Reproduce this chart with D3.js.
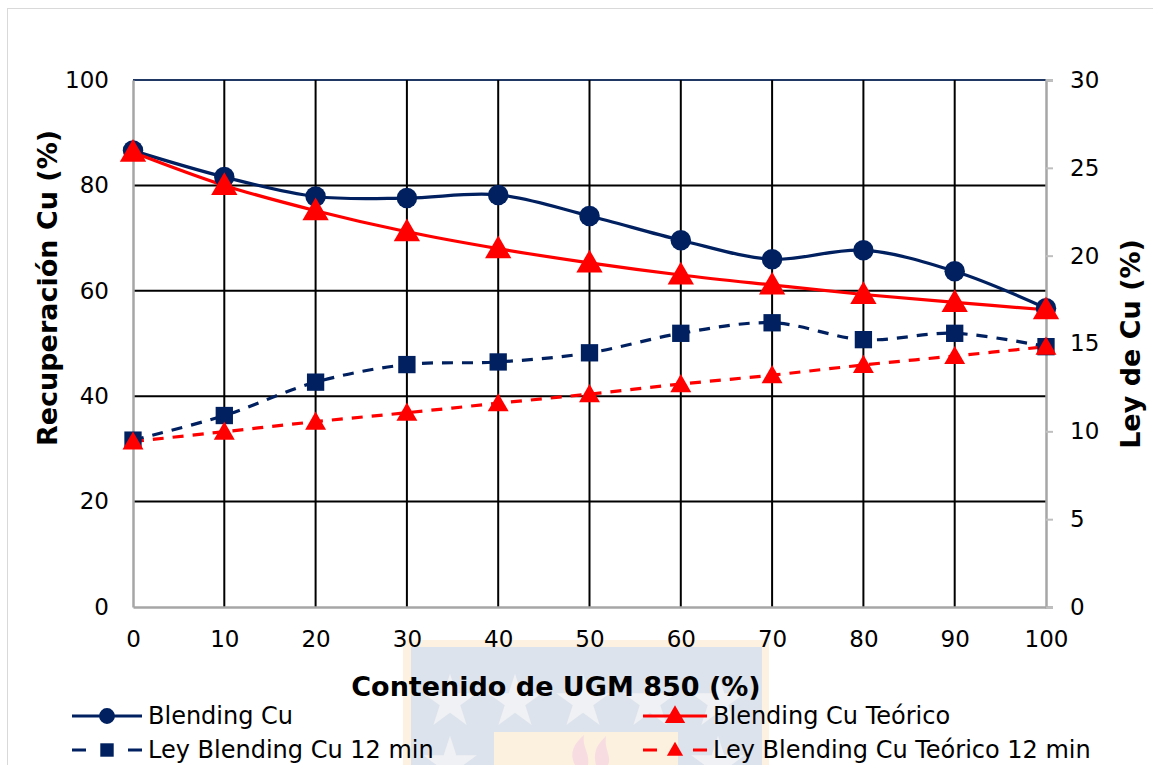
<!DOCTYPE html>
<html>
<head>
<meta charset="utf-8">
<script src="https://cdn.jsdelivr.net/npm/d3@7"></script>
<style>
  body { margin: 0; background: #fff; }
  svg { display: block; font-family: "DejaVu Sans", Verdana, sans-serif; }
</style>
</head>
<body>
<svg id="chart" width="1153" height="765"></svg>
<script>
// data
var ugm = [0, 10, 20, 30, 40, 50, 60, 70, 80, 90, 100];
var blendingCu = [86.6, 81.6, 77.9, 77.6, 78.2, 74.2, 69.6, 66.0, 67.7, 63.7, 56.7];
var blendingCuTeorico = [86.3, 80.0, 75.2, 71.2, 68.0, 65.3, 63.0, 61.1, 59.3, 57.8, 56.4];
var leyBlending = [9.5, 10.9, 12.8, 13.8, 13.95, 14.47, 15.58, 16.18, 15.22, 15.58, 14.82];
var leyTeorico = [9.42, 9.98, 10.55, 11.06, 11.6, 12.12, 12.69, 13.2, 13.78, 14.29, 14.82];
var leftTicks = [0, 20, 40, 60, 80, 100];
var rightTicks = [0, 5, 10, 15, 20, 25, 30];
var xTicks = [0, 10, 20, 30, 40, 50, 60, 70, 80, 90, 100];

var navy = "#002060", red = "#ff0000";
var margin = { top: 80, right: 107, bottom: 158, left: 133 },
  W = 1153, H = 765,
  width = W - margin.left - margin.right,
  height = H - margin.top - margin.bottom;

var svg = d3.select("#chart");

// chart frame
svg.append("rect")
  .attr("x", 7.5).attr("y", 8.5)
  .attr("width", 1200).attr("height", 800)
  .attr("fill", "#fff").attr("stroke", "#d9d9d9");

// faint logo watermark behind the bottom
var wm = svg.append("g");
wm.append("rect").attr("x", 403).attr("y", 640).attr("width", 366).attr("height", 130).attr("fill", "#fdf2e2");
wm.append("rect").attr("x", 411).attr("y", 647).attr("width", 351).attr("height", 130).attr("fill", "#dde3ec");
wm.append("rect").attr("x", 494).attr("y", 732).attr("width", 184).attr("height", 40).attr("fill", "#fcf0df");
wm.selectAll("path.star")
  .data([[450, 702], [515, 702], [583, 702], [650, 702], [718, 702], [450, 764], [718, 764]])
  .enter().append("path")
  .attr("d", d3.symbol().type(d3.symbolStar).size(900))
  .attr("transform", function (d) { return "translate(" + d[0] + "," + d[1] + ")"; })
  .attr("fill", "#eff1f4");
wm.append("path")
  .attr("d", "M575,765 C568,752 576,742 584,735 C582,748 590,752 588,765 Z M596,765 C592,750 600,742 606,736 C604,750 612,756 608,765 Z")
  .attr("fill", "#f7dde2");

var g = svg.append("g")
  .attr("transform", "translate(" + margin.left + "," + margin.top + ")");

var x = d3.scaleLinear().domain([0, 100]).range([0, width]);
var yL = d3.scaleLinear().domain([0, 100]).range([height, 0]);
var yR = d3.scaleLinear().domain([0, 30]).range([height, 0]);

// grid
g.append("g").selectAll("line")
  .data(leftTicks.filter(function (d) { return d > 0; }))
  .enter().append("line")
  .attr("x1", 0).attr("x2", width)
  .attr("y1", function (d) { return yL(d); })
  .attr("y2", function (d) { return yL(d); })
  .attr("stroke", function (d) { return d == 100 ? "#1f3864" : "#000"; })
  .attr("stroke-width", 2);
g.append("g").selectAll("line")
  .data(xTicks.filter(function (d) { return d > 0 && d < 100; }))
  .enter().append("line")
  .attr("x1", function (d) { return x(d); })
  .attr("x2", function (d) { return x(d); })
  .attr("y1", 0).attr("y2", height)
  .attr("stroke", "#000").attr("stroke-width", 2);

// axes
var xAxis = g.append("g").attr("transform", "translate(0," + height + ")")
  .call(d3.axisBottom(x).tickValues(xTicks).tickSize(0).tickPadding(24));
var leftAxis = g.append("g")
  .call(d3.axisLeft(yL).tickValues(leftTicks).tickSize(0).tickPadding(24));
var rightAxis = g.append("g").attr("transform", "translate(" + width + ",0)")
  .call(d3.axisRight(yR).tickValues(rightTicks).tickSize(7).tickPadding(17));

[xAxis, leftAxis, rightAxis].forEach(function (a) {
  a.select(".domain").attr("stroke", "#a6a6a6").attr("stroke-width", 2.5);
  a.selectAll(".tick line").attr("stroke", "#bfbfbf").attr("stroke-width", 2);
  a.selectAll("text").attr("font-size", 23).attr("fill", "#000")
    .attr("font-family", "DejaVu Sans, Verdana, sans-serif");
});

// series
var series = [
  { name: "Blending Cu", vals: blendingCu, scale: yL, color: navy, dash: null, marker: "circle", size: 330 },
  { name: "Blending Cu Teórico", vals: blendingCuTeorico, scale: yL, color: red, dash: null, marker: "triangle", size: 300 },
  { name: "Ley Blending Cu 12 min", vals: leyBlending, scale: yR, color: navy, dash: "11,9", marker: "square", size: 300 },
  { name: "Ley Blending Cu Teórico 12 min", vals: leyTeorico, scale: yR, color: red, dash: "11,9", marker: "triangle", size: 190 }
];
var symbols = { circle: d3.symbolCircle, triangle: d3.symbolTriangle, square: d3.symbolSquare };

series.forEach(function (s) {
  var line = d3.line()
    .x(function (d, i) { return x(ugm[i]); })
    .y(function (d) { return s.scale(d); })
    .curve(d3.curveCatmullRom.alpha(0.5));
  g.append("path")
    .datum(s.vals)
    .attr("d", line)
    .attr("fill", "none")
    .attr("stroke", s.color)
    .attr("stroke-width", 3.2)
    .attr("stroke-dasharray", s.dash);
});
series.forEach(function (s) {
  g.append("g").selectAll("path")
    .data(s.vals)
    .enter().append("path")
    .attr("d", d3.symbol().type(symbols[s.marker]).size(s.size))
    .attr("transform", function (d, i) {
      var dy = s.marker == "triangle" ? 2 : 0;
      return "translate(" + x(ugm[i]) + "," + (s.scale(d) + dy) + ")";
    })
    .attr("fill", s.color);
});

// axis titles
svg.append("text")
  .attr("x", 556).attr("y", 696)
  .attr("text-anchor", "middle")
  .attr("font-size", 27).attr("font-weight", "bold")
  .text("Contenido de UGM 850 (%)");
svg.append("text")
  .attr("transform", "translate(57,288) rotate(-90)")
  .attr("text-anchor", "middle")
  .attr("font-size", 27).attr("font-weight", "bold")
  .text("Recuperación Cu (%)");
svg.append("text")
  .attr("transform", "translate(1140,344) rotate(-90)")
  .attr("text-anchor", "middle")
  .attr("font-size", 27).attr("font-weight", "bold")
  .text("Ley de Cu (%)");

// legend
var legendPos = [[72, 716, 70], [643, 716, 64], [72, 750, 70], [643, 750, 64]];
series.forEach(function (s, i) {
  var p = legendPos[i], len = p[2];
  var lg = svg.append("g").attr("transform", "translate(" + p[0] + "," + p[1] + ")");
  lg.append("line")
    .attr("x1", 0).attr("x2", len)
    .attr("stroke", s.color).attr("stroke-width", 3.2)
    .attr("stroke-dasharray", s.dash ? "14," + (len - 28) + ",14" : null);
  lg.append("path")
    .attr("d", d3.symbol().type(symbols[s.marker]).size(s.size * 0.6))
    .attr("transform", "translate(" + len / 2 + "," + (s.marker == "triangle" ? 1 : 0) + ")")
    .attr("fill", s.color);
  lg.append("text")
    .attr("x", len + 6).attr("dy", "0.35em")
    .attr("font-size", 24)
    .text(s.name);
});
</script>
</body>
</html>
